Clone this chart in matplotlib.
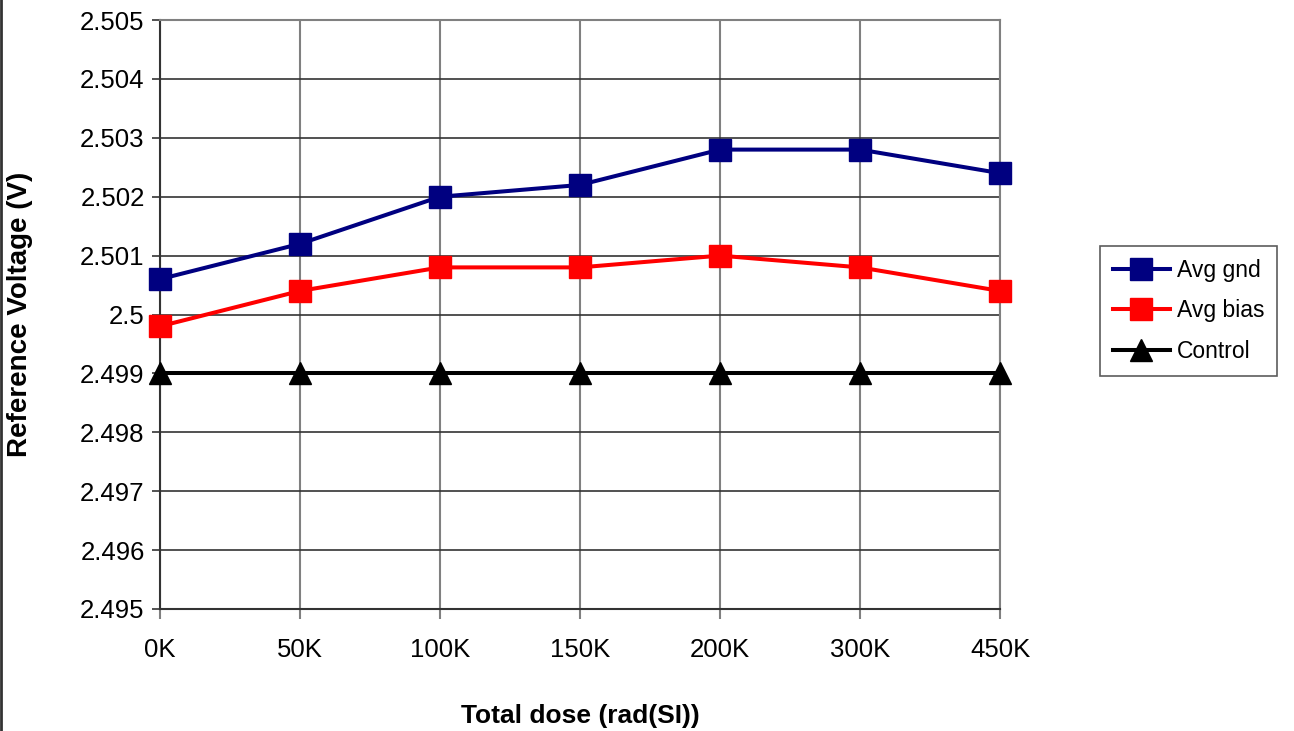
import matplotlib

matplotlib.use("Agg")
import matplotlib.pyplot as plt
from matplotlib.lines import Line2D

plt.rcParams["font.family"] = ["Liberation Sans", "DejaVu Sans"]

doses = ["0K", "50K", "100K", "150K", "200K", "300K", "450K"]
avg_gnd = [2.5006, 2.5012, 2.5020, 2.5022, 2.5028, 2.5028, 2.5024]
avg_bias = [2.4998, 2.5004, 2.5008, 2.5008, 2.5010, 2.5008, 2.5004]
control = [2.499, 2.499, 2.499, 2.499, 2.499, 2.499, 2.499]
y_ticks = [2.495 + 0.001 * i for i in range(11)]

fig = plt.figure(figsize=(12.94, 7.31), dpi=100)
ax = fig.add_axes([0.1236, 0.1669, 0.6492, 0.8057])

x = list(range(len(doses)))
ax.plot(x, avg_gnd, color="#000080", lw=2.9, marker="s", ms=15.5, label="Avg gnd",
        zorder=3, clip_on=False)
ax.plot(x, avg_bias, color="#ff0000", lw=2.9, marker="s", ms=15.5, label="Avg bias",
        zorder=3, clip_on=False)
ax.plot(x, control, color="#000000", lw=2.9, marker="^", ms=15.5, label="Control",
        zorder=3, clip_on=False)

ax.set_xlim(0, len(doses) - 1)
ax.set_ylim(2.495, 2.505)
ax.set_xticks(x)
ax.set_xticklabels(doses)
ax.set_yticks(y_ticks)
ax.set_yticklabels([f"{v:.3f}".rstrip("0").rstrip(".") for v in y_ticks])

ax.yaxis.grid(True, color="#333333", lw=1.2)
ax.xaxis.grid(True, color="#808080", lw=1.5)
ax.set_axisbelow(True)
for side in ["top", "right"]:
    ax.spines[side].set_color("#808080")
    ax.spines[side].set_linewidth(1.5)
ax.spines["left"].set_color("#333333")
ax.spines["left"].set_linewidth(1.5)
ax.spines["bottom"].set_color("#333333")
ax.spines["bottom"].set_linewidth(1.5)
ax.tick_params(axis="y", length=6, width=1.2, color="#333333", labelsize=18.5, pad=5)
ax.tick_params(axis="x", length=7, width=1.5, color="#808080", labelsize=18.5, pad=14)

ax.set_xlabel("Total dose (rad(SI))", fontsize=19, fontweight="bold", labelpad=30)
ax.set_ylabel("Reference Voltage (V)", fontsize=20, fontweight="bold", labelpad=34)

leg = fig.legend(
    loc="upper left",
    bbox_to_anchor=(1100 / 1294, 1 - 246 / 731),
    fontsize=16.5,
    frameon=True,
    fancybox=False,
    edgecolor="#333333",
    handlelength=2.5,
    handletextpad=0.3,
    labelspacing=0.78,
    borderpad=0.55,
    borderaxespad=0,
)
leg.get_frame().set_linewidth(1.2)

# left edge of the chart frame
fig.lines.append(
    Line2D([0.001, 0.001], [0, 1], transform=fig.transFigure, color="#333333", lw=2)
)

fig.savefig("out.png", dpi=100)
